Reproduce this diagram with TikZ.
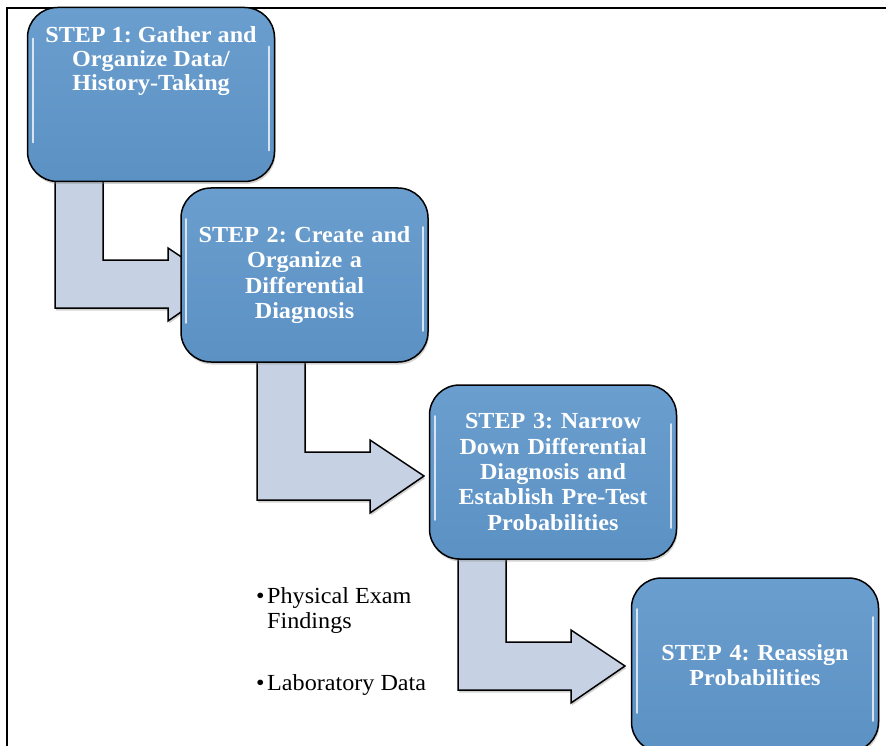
\documentclass[tikz,border=0pt]{standalone}
\usepackage{fontspec}
\setmainfont{Liberation Serif}[FakeStretch=1.05]
\frenchspacing
\usetikzlibrary{shadows,calc}
\definecolor{boxblue}{RGB}{92,145,196}
\definecolor{boxtop}{RGB}{106,158,206}
\definecolor{arrowfill}{RGB}{198,210,227}
\tikzset{
  stepbox/.style={draw=black, line width=1.5pt, rounded corners=30pt,
    top color=boxtop, bottom color=boxblue,
    minimum width=247pt, minimum height=174pt, text width=236pt,
    align=center, text=white, inner sep=0pt,
    font=\bfseries\fontsize{23}{25.3}\selectfont,
    drop shadow={opacity=0.35, shadow xshift=1pt, shadow yshift=-2.5pt}},
  steptext/.style={align=center, text=white, inner sep=0pt,
    font=\bfseries\fontsize{23}{24.2}\selectfont},
  bentarrow/.style={draw=black, line width=1.5pt, fill=arrowfill, line join=miter,
    drop shadow={opacity=0.35, shadow xshift=1pt, shadow yshift=-2.5pt}},
  shine/.style={white, line width=2.2pt, opacity=0.75, line cap=round},
  bullettext/.style={font=\fontsize{23}{25.3}\selectfont, anchor=base west, inner sep=0pt},
  frameline/.style={line width=2pt, black}
}
\newcommand\bentarr[3]{%
  \draw[bentarrow] (#1,#2) -- ({#1+48},#2) -- ({#1+48},#3) -- ({#1+113},#3)
    -- ({#1+113},{#3-12}) -- ({#1+167},{#3+24}) -- ({#1+113},{#3+61})
    -- ({#1+113},{#3+48}) -- (#1,{#3+48}) -- cycle;}
\newcommand\boxshine[1]{%
  \draw[shine] ($(#1.north west)+(6,32)$) -- ($(#1.south west)+(6,-40)$);
  \draw[shine] ($(#1.north east)+(-6,40)$) -- ($(#1.south east)+(-6,-32)$);}
\begin{document}
\begin{tikzpicture}[x=1pt,y=-1pt]
\useasboundingbox (0,0) rectangle (886,746);
\fill[white] (0,0) rectangle (886,746);
\draw[frameline] (7,750) -- (7,8) -- (890,8);

% bent arrows (behind the boxes)
\bentarr{55}{170}{260}
\bentarr{257}{350}{452}
\bentarr{458}{545}{642}

% step boxes
\node[stepbox] (b1) at (151,94.5) {};
\node[steptext, anchor=north] (t1) at (151,26) {STEP 1: Gather and\\Organize Data/\\History-Taking};
\node[stepbox] (b2) at (304.5,275) {STEP 2: Create and\\Organize a\\Differential\\Diagnosis};
\node[stepbox] (b3) at (553,472) {STEP 3: Narrow\\Down Differential\\Diagnosis and\\Establish Pre-Test\\Probabilities};
\node[stepbox] (b4) at (755,665) {STEP 4: Reassign\\Probabilities};
\boxshine{b1}
\boxshine{b2}
\boxshine{b3}
\boxshine{b4}

% bullet list
\node[bullettext] (d1) at (256,603) {•};
\node[bullettext] (p1) at (267,603) {Physical Exam};
\node[bullettext] (p2) at (267,628) {Findings};
\node[bullettext] (d2) at (256,690) {•};
\node[bullettext] (p3) at (267,690) {Laboratory Data};
\end{tikzpicture}
\end{document}
